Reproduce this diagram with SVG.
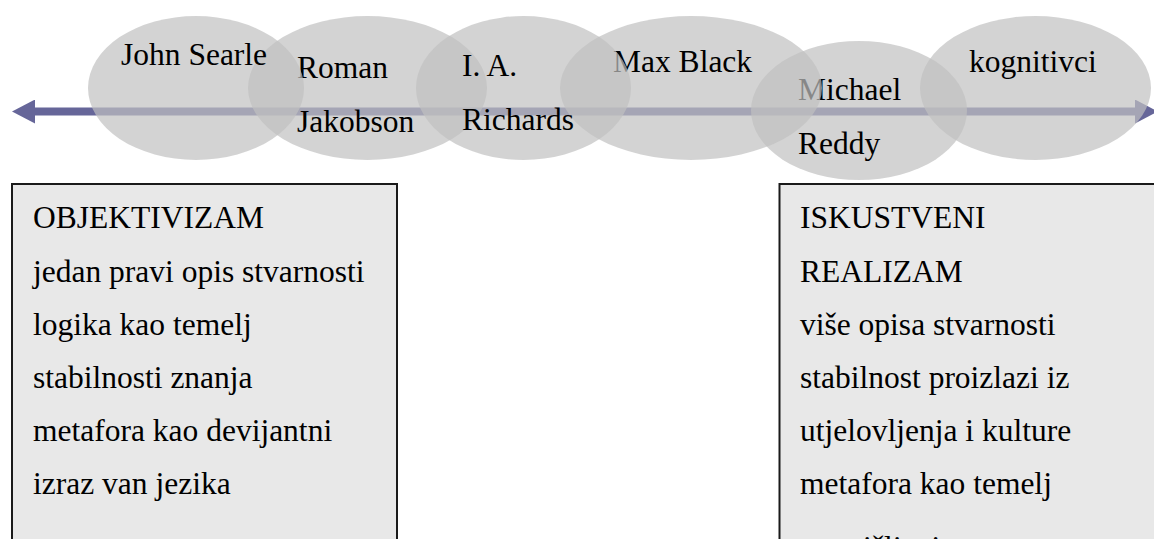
<svg xmlns="http://www.w3.org/2000/svg" width="1154" height="539" viewBox="0 0 1154 539">
<style>
.bg{fill:#ffffff}
.ell{fill:#c0c0c0;fill-opacity:0.7}
.t{font-family:"Liberation Serif","Times New Roman",serif;font-size:31.5px;fill:#000}
.box{fill:#e8e8e8;stroke:#1a1a1a;stroke-width:2}
.axis{stroke:#666699;stroke-width:8;fill:none}
</style>
<defs>
<marker id="head" markerUnits="userSpaceOnUse" markerWidth="24" markerHeight="24" refX="0" refY="12" orient="auto-start-reverse" viewBox="0 0 24 24">
<path d="M0,0 L23,12 L0,24 z" fill="#666699"/>
</marker>
</defs>
<rect class="bg" x="0" y="0" width="1154" height="539"/>
<g id="connectors">
<line class="axis" x1="35" y1="111.5" x2="1135" y2="111.5" marker-start="url(#head)" marker-end="url(#head)"/>
</g>
<g id="node-kognitivci">
<ellipse class="ell" cx="1035.5" cy="88" rx="115.5" ry="72"/>
<text class="t" x="969" y="72">kognitivci</text>
</g>
<g id="node-reddy">
<ellipse class="ell" cx="859" cy="110.5" rx="108" ry="69.5"/>
<text class="t" x="798" y="100">Michael</text>
<text class="t" x="798" y="154">Reddy</text>
</g>
<g id="node-black">
<ellipse class="ell" cx="691" cy="88" rx="131" ry="72"/>
<text class="t" x="613" y="72">Max Black</text>
</g>
<g id="node-jakobson">
<ellipse class="ell" cx="367.5" cy="88" rx="119.5" ry="72"/>
<text class="t" x="297" y="78">Roman</text>
<text class="t" x="297" y="132">Jakobson</text>
</g>
<g id="node-richards">
<ellipse class="ell" cx="523.5" cy="88" rx="107.5" ry="72"/>
<text class="t" x="462" y="76">I. A.</text>
<text class="t" x="462" y="130">Richards</text>
</g>
<g id="node-searle">
<ellipse class="ell" cx="196" cy="88" rx="108" ry="72"/>
<text class="t" x="121" y="65">John Searle</text>
</g>
<g id="box-objektivizam">
<rect class="box" x="12" y="184" width="385" height="380"/>
<text class="t" x="33" y="228">OBJEKTIVIZAM</text>
<text class="t" x="33" y="281.5">jedan pravi opis stvarnosti</text>
<text class="t" x="33" y="334.5">logika kao temelj</text>
<text class="t" x="33" y="387.5">stabilnosti znanja</text>
<text class="t" x="33" y="440.5">metafora kao devijantni</text>
<text class="t" x="33" y="493.5">izraz van jezika</text>
</g>
<g id="box-iskustveni">
<rect class="box" x="779.5" y="184" width="400" height="380"/>
<text class="t" x="800" y="228">ISKUSTVENI</text>
<text class="t" x="800" y="281.5">REALIZAM</text>
<text class="t" x="800" y="334.5">više opisa stvarnosti</text>
<text class="t" x="800" y="387.5">stabilnost proizlazi iz</text>
<text class="t" x="800" y="440.5">utjelovljenja i kulture</text>
<text class="t" x="800" y="493.5">metafora kao temelj</text>
<text class="t" x="800" y="558">razmišljanja</text>
</g>
</svg>
